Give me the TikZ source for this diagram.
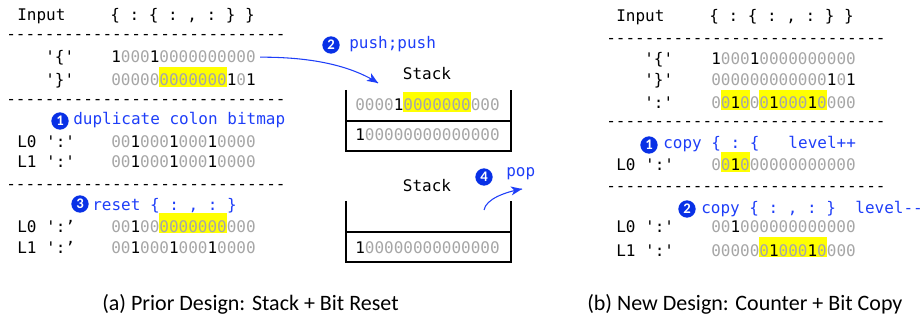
\documentclass[tikz,border=0pt]{standalone}
\usepackage{fontspec}
\setmainfont{Carlito}
\setmonofont{DejaVu Sans Mono}
\usepackage{tikz}

\definecolor{bitGray}{RGB}{166,166,166}
\definecolor{hlYellow}{RGB}{255,255,0}
\definecolor{opBlue}{RGB}{30,62,248}
\definecolor{dotBlue}{RGB}{8,48,230}

\newcommand{\zr}[1]{\textcolor{bitGray}{#1}}
\newcommand{\hilite}[1]{{\setlength{\fboxsep}{0pt}\colorbox{hlYellow}{\rule[-1pt]{0pt}{15.5pt}#1}}}

\begin{document}
\begin{tikzpicture}[x=0.75pt,y=0.75pt,yscale=-1,xscale=1,
  txt/.style={anchor=base west, inner sep=0pt, font=\ttfamily\fontsize{12}{15}\selectfont},
  optxt/.style={txt, text=opBlue},
  numdot/.style={circle, fill=dotBlue, text=white, inner sep=0pt, minimum size=13pt, font=\bfseries\fontsize{11}{11}\selectfont},
  caption/.style={anchor=base west, inner sep=0pt, font=\fontsize{16.5}{20}\selectfont}]
  \useasboundingbox (0,0) rectangle (923,320);

  %%%%%%%% (a) prior design
  % Text Node
  \draw (17,21) node [txt] (inputA) {Input};
  \draw (110,21) node [txt] (seqA) {\{ : \{ : , : \} \}};
  \draw (6,40) node [txt] (sepA1) {-----------------------------};
  % Text Node
  \draw (45,63) node [txt] (lbOpenA) {'\{'};
  \draw (111,63) node [txt] (bitOpenA) {1\zr{000}1\zr{0000000000}};
  \draw (45,86) node [txt] (lbCloseA) {'\}'};
  \draw (111,86) node [txt] (bitCloseA) {\zr{00000}\hilite{\zr{0000000}}1\zr{0}1};
  \draw (6,105) node [txt] (sepA2) {-----------------------------};
  % Text Node
  \draw (60,121) node [numdot] (dotDup) {1};
  \draw (73,125) node [optxt] (opDup) {duplicate colon bitmap};
  \draw (17,148) node [txt] (lbDupZero) {L0 ':'};
  \draw (111,148) node [txt] (bitDupZero) {\zr{00}1\zr{000}1\zr{000}1\zr{0000}};
  \draw (17,168) node [txt] (lbDupOne) {L1 ':'};
  \draw (111,168) node [txt] (bitDupOne) {\zr{00}1\zr{000}1\zr{000}1\zr{0000}};
  \draw (6,190) node [txt] (sepA3) {-----------------------------};
  % Text Node
  \draw (80,204) node [numdot] (dotReset) {3};
  \draw (92,210) node [optxt] (opReset) {reset \{ : , : \}};
  \draw (17,232) node [txt] (lbResetZero) {L0 ':’};
  \draw (111,232) node [txt] (bitResetZero) {\zr{00}1\zr{00}\hilite{\zr{0000000}}\zr{000}};
  \draw (17,253) node [txt] (lbResetOne) {L1 ':’};
  \draw (111,253) node [txt] (bitResetOne) {\zr{00}1\zr{000}1\zr{000}1\zr{0000}};

  %%%%%%%% stacks
  % Text Node
  \draw (331,45) node [numdot] (dotPush) {2};
  \draw (349,49) node [optxt] (opPush) {push;push};
  \draw (427,80) node [txt, anchor=base] (stackUp) {Stack};
  \draw (355,111) node [txt] (stackUpTop) {\zr{0000}1\hilite{\zr{0000000}}\zr{000}};
  \draw (355,141) node [txt] (stackUpBot) {1\zr{00000000000000}};
  %Straight Lines
  \draw [line width=1] (346,90) -- (346,151) -- (511,151) -- (511,90) ;
  \draw [line width=1] (346,121) -- (511,121) ;

  % Text Node
  \draw (484,177) node [numdot] (dotPop) {4};
  \draw (506,177) node [optxt] (opPop) {pop};
  \draw (427,192) node [txt, anchor=base] (stackDown) {Stack};
  \draw (355,253) node [txt] (stackDownBot) {1\zr{00000000000000}};
  %Straight Lines
  \draw [line width=1] (346,201) -- (346,262) -- (511,262) -- (511,201) ;
  \draw [line width=1] (346,232) -- (511,232) ;

  %Curve Lines
  \coordinate (pushEnd) at (378,83);
  \draw [color=opBlue, line width=0.8] ([xshift=3pt]bitOpenA.east) .. controls (310,57) and (350,65) .. (pushEnd) ;
  \draw [shift={(378,83)}, rotate = 212.7] [fill=opBlue] [draw opacity=0] (11,-4.5) -- (0,0) -- (11,4.5) -- (8,0) -- cycle ;
  %Curve Lines
  \coordinate (popStart) at (484,210);
  \coordinate (popEnd) at (522,189);
  \draw [color=opBlue, line width=0.8] (popStart) .. controls (486,199) and (505,192) .. (popEnd) ;
  \draw [shift={(522,189)}, rotate = 170] [fill=opBlue] [draw opacity=0] (11,-4.5) -- (0,0) -- (11,4.5) -- (8,0) -- cycle ;

  %%%%%%%% (b) new design
  % Text Node
  \draw (616,22) node [txt] (inputB) {Input};
  \draw (709,22) node [txt] (seqB) {\{ : \{ : , : \} \}};
  \draw (606,44) node [txt] (sepB1) {-----------------------------};
  % Text Node
  \draw (644,65) node [txt] (lbOpenB) {'\{'};
  \draw (711,65) node [txt] (bitOpenB) {1\zr{000}1\zr{0000000000}};
  \draw (644,86) node [txt] (lbCloseB) {'\}'};
  \draw (711,86) node [txt] (bitCloseB) {\zr{000000000000}1\zr{0}1};
  \draw (644,109) node [txt] (lbColonB) {':'};
  \draw (711,109) node [txt] (bitColonB) {\zr{0}\hilite{\zr{0}1\zr{0}}\zr{0}\hilite{\zr{0}1\zr{000}1\zr{0}}\zr{000}};
  \draw (606,127) node [txt] (sepB2) {-----------------------------};
  % Text Node
  \draw (649,145) node [numdot] (dotInc) {1};
  \draw (663,149) node [optxt] (opInc) {copy \{ : \{~~~level++};
  \draw (616,171) node [txt] (lbIncZero) {L0 ':'};
  \draw (711,171) node [txt] (bitIncZero) {\zr{0}\hilite{\zr{0}1\zr{0}}\zr{00000000000}};
  \draw (606,192) node [txt] (sepB3) {-----------------------------};
  % Text Node
  \draw (687,209) node [numdot] (dotDec) {2};
  \draw (701,214) node [optxt] (opDec) {copy \{ : , : \}~~level--};
  \draw (616,232) node [txt] (lbDecZero) {L0 ':'};
  \draw (711,232) node [txt] (bitDecZero) {\zr{00}1\zr{000000000000}};
  \draw (616,256) node [txt] (lbDecOne) {L1 ':'};
  \draw (711,256) node [txt] (bitDecOne) {\zr{00000}\hilite{\zr{0}1\zr{000}1\zr{0}}\zr{000}};

  %%%%%%%% captions
  % Text Node
  \draw (102,310) node [caption] (capA) {(a) Prior Design: Stack + Bit Reset};
  \draw (587,310) node [caption] (capB) {(b) New Design: Counter + Bit Copy};
\end{tikzpicture}
\end{document}
